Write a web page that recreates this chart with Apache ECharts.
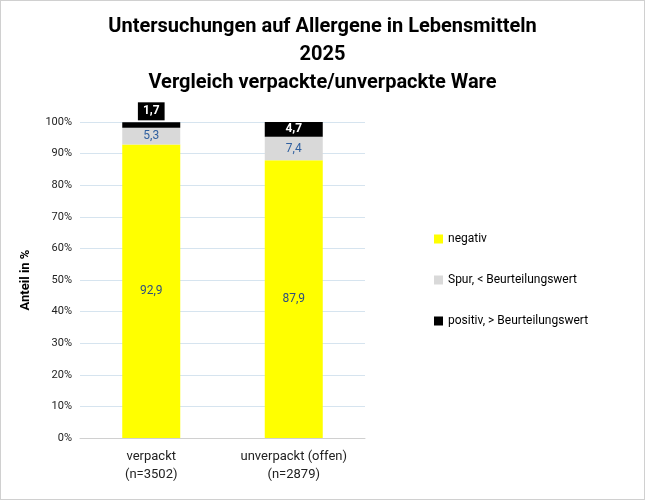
<!DOCTYPE html>
<html><head><meta charset="utf-8">
<script src="https://cdn.jsdelivr.net/npm/echarts@6/dist/echarts.min.js"></script>
<style>html,body{margin:0;padding:0;background:#fff}#c{width:643px;height:498px;border:1px solid #d0d0d0}</style>
</head><body><div id="c"></div>
<script>
const categories = ['verpackt\n(n=3502)', 'unverpackt (offen)\n(n=2879)'];
const negativ = [92.9, 87.9];
const spur = [5.3, 7.4];
const positiv = [1.7, 4.7];
const yTicks = [0, 10, 20, 30, 40, 50, 60, 70, 80, 90, 100];
const fmt = p => String(p.value).replace('.', ',');
const chart = echarts.init(document.getElementById('c'));
chart.setOption({
  animation: false,
  title: { text: 'Untersuchungen auf Allergene in Lebensmitteln\n2025\nVergleich verpackte/unverpackte Ware', left: 'center', top: 7,
    textStyle: { fontFamily: 'Roboto', fontWeight: 'bold', fontSize: 20, lineHeight: 28, color: '#000' } },
  legend: { orient: 'vertical', left: 428, top: 227, itemGap: 29, itemWidth: 9, itemHeight: 9, icon: 'rect',
    textStyle: { fontFamily: 'Roboto', fontSize: 12, color: '#000' } },
  grid: { left: 79, right: 279, top: 121, bottom: 61 },
  xAxis: { type: 'category', data: categories, axisTick: { show: false },
    axisLine: { lineStyle: { color: '#d0d0d0' } },
    axisLabel: { color: '#222', fontFamily: 'Roboto', fontSize: 13, lineHeight: 18, margin: 10 } },
  yAxis: { type: 'value', min: yTicks[0], max: yTicks[yTicks.length - 1], interval: 10,
    name: 'Anteil in %', nameLocation: 'middle', nameGap: 48,
    nameTextStyle: { fontFamily: 'Roboto', fontWeight: 'bold', fontSize: 13, color: '#000' },
    axisLabel: { formatter: v => v + '%', color: '#222', fontFamily: 'Roboto', fontSize: 11 },
    splitLine: { lineStyle: { color: '#d6e4ef' } } },
  series: [
    { name: 'negativ', type: 'bar', stack: 's', data: negativ, barWidth: 58, itemStyle: { color: '#ffff00' },
      label: { show: true, position: 'inside', formatter: fmt, color: '#2f4f7f', fontFamily: 'Roboto', fontSize: 12 } },
    { name: 'Spur, < Beurteilungswert', type: 'bar', stack: 's', data: spur, itemStyle: { color: '#d9d9d9' },
      label: { show: true, position: 'inside', formatter: fmt, color: '#2f5f9f', fontFamily: 'Roboto', fontSize: 12 } },
    { name: 'positiv, > Beurteilungswert', type: 'bar', stack: 's', itemStyle: { color: '#000' },
      data: [
        { value: positiv[0], label: { position: 'top', distance: 2, backgroundColor: '#000', padding: [3, 5] } },
        { value: positiv[1], label: { position: 'inside' } }
      ],
      label: { show: true, formatter: fmt, color: '#fff', fontWeight: 'bold', fontFamily: 'Roboto', fontSize: 12 } }
  ]
});
</script></body></html>
